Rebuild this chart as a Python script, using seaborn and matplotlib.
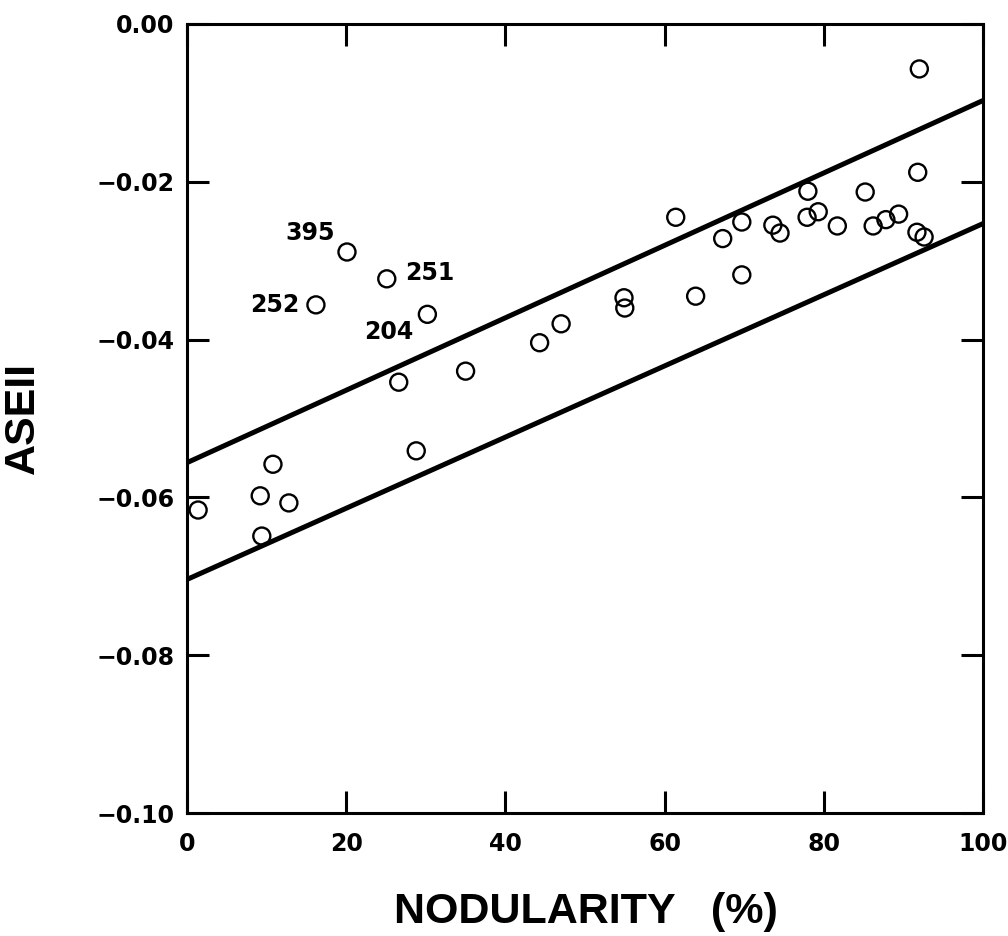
import matplotlib
matplotlib.use("Agg")
import matplotlib.pyplot as plt
from matplotlib.ticker import FuncFormatter
import seaborn as sns
import pandas as pd

# Nodularity (%) and ASEII for each specimen
nodularity = [1.4, 9.2, 10.8, 12.8, 9.4,
              20.1, 25.1, 16.2, 30.2, 26.6, 35.0, 28.8,
              44.3, 47.0, 54.9, 55.0, 61.4, 63.9, 67.3, 69.7, 69.7,
              92.0, 78.0, 73.6, 74.5, 77.9, 79.3, 81.7, 85.2, 86.2,
              87.8, 89.4, 91.8, 91.7, 92.6]
aseii = [-0.0616, -0.0598, -0.0558, -0.0607, -0.0649,
         -0.0289, -0.0323, -0.0356, -0.0368, -0.0454, -0.0440, -0.0541,
         -0.0404, -0.0380, -0.0347, -0.0360, -0.0245, -0.0345, -0.0272, -0.0251, -0.0318,
         -0.0057, -0.0212, -0.0255, -0.0265, -0.0245, -0.0238, -0.0256, -0.0213, -0.0256,
         -0.0248, -0.0241, -0.0188, -0.0264, -0.0270]
sample_id = ["", "", "", "", "",
             "395", "251", "252", "204", "", "", "",
             "", "", "", "", "", "", "", "", "",
             "", "", "", "", "", "", "", "", "",
             "", "", "", "", ""]

# Scatter band limits
band_x = [0, 100]
band_upper = [-0.0556, -0.0097]
band_lower = [-0.0704, -0.0253]

x_ticks = [0, 20, 40, 60, 80, 100]
y_ticks = [0.00, -0.02, -0.04, -0.06, -0.08, -0.10]

# label offsets (points) and alignment for the identified specimens
label_style = {
    "395": ((-9, 14), "right", "center"),
    "251": ((13, 4), "left", "center"),
    "252": ((-12, 0), "right", "center"),
    "204": ((-10, -13), "right", "center"),
}

df = pd.DataFrame({"nodularity": nodularity, "aseii": aseii, "id": sample_id})

sns.set_theme(style="ticks")
plt.rcParams["font.family"] = ["DejaVu Sans"]
plt.rcParams.update({"text.color": "black", "axes.labelcolor": "black",
                     "xtick.color": "black", "ytick.color": "black",
                     "axes.edgecolor": "black"})

fig = plt.figure(figsize=(10.08, 9.36), dpi=100)
ax = fig.add_axes([0.1855, 0.1314, 0.7897, 0.8430])

sns.lineplot(x=band_x, y=band_upper, color="black", linewidth=3.6, ax=ax)
sns.lineplot(x=band_x, y=band_lower, color="black", linewidth=3.6, ax=ax)
sns.scatterplot(data=df, x="nodularity", y="aseii", marker="o", s=150,
                facecolors="none", edgecolor="black", linewidth=1.7,
                ax=ax, zorder=3)

tick_font = dict(family="DejaVu Sans", weight="bold", size=17)
for _, row in df[df["id"] != ""].iterrows():
    off, ha, va = label_style[row["id"]]
    ax.annotate(row["id"], (row["nodularity"], row["aseii"]),
                xytext=off, textcoords="offset points",
                ha=ha, va=va, color="black", **tick_font)

ax.set_xlim(0, 100)
ax.set_ylim(-0.10, 0.0)
ax.set_xticks(x_ticks)
ax.set_yticks(y_ticks)
ax.yaxis.set_major_formatter(FuncFormatter(lambda v, _: f"{v:.2f}".replace("-", "\u2212")))
ax.tick_params(direction="in", length=16, width=2.2, top=True, right=True,
               labeltop=False, labelright=False)
ax.tick_params(axis="x", pad=14)
ax.tick_params(axis="y", pad=9)
for lab in ax.get_xticklabels() + ax.get_yticklabels():
    lab.set_fontfamily("DejaVu Sans")
    lab.set_fontweight("bold")
    lab.set_fontsize(17)

for sp in ax.spines.values():
    sp.set_linewidth(2.2)
    sp.set_color("black")

label_font = dict(family="Liberation Sans", weight="bold", size=31)
ax.set_xlabel("NODULARITY   (%)", **label_font)
ax.set_ylabel("ASEII", **label_font)
ax.xaxis.set_label_coords(0.501, -0.100)
ax.yaxis.set_label_coords(-0.181, 0.50)
ax.xaxis.label.set_va("top")

fig.savefig("out.png", dpi=100, facecolor="white")
